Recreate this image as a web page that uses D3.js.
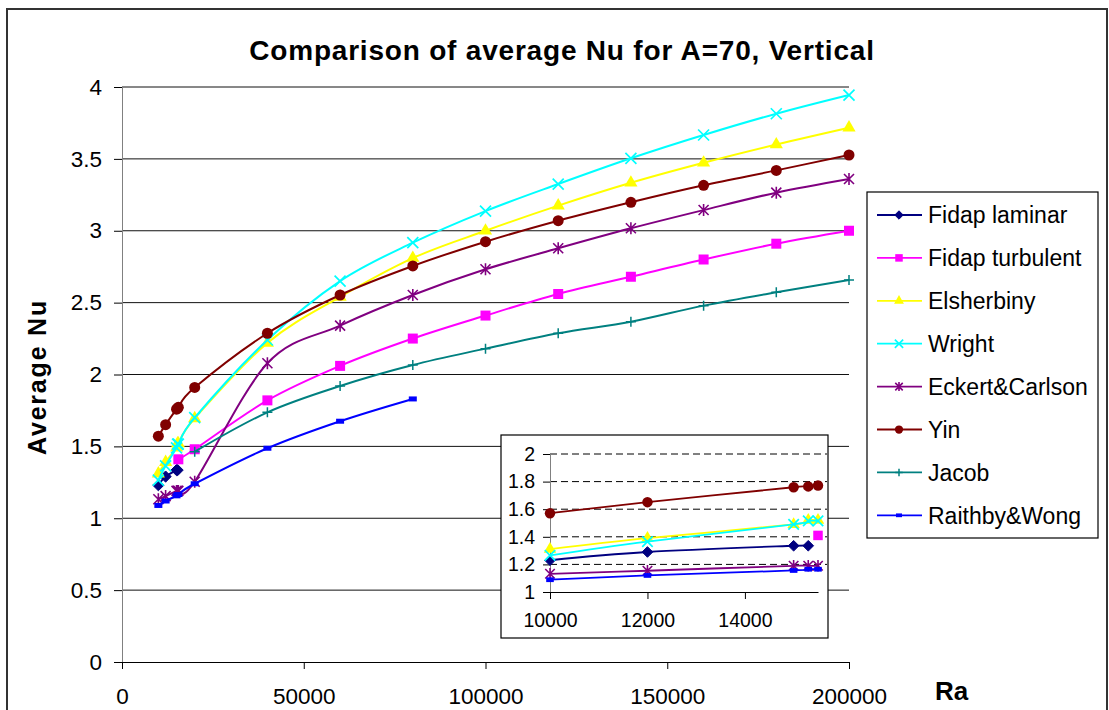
<!DOCTYPE html>
<html>
<head>
<meta charset="utf-8">
<script src="https://d3js.org/d3.v7.min.js"></script>
<style>
body { margin: 0; background: #fff; }
text { font-family: "Liberation Sans", Arial, sans-serif; }
</style>
</head>
<body>
<svg width="1109" height="710"></svg>
<script>
// Ra values shared by several series
var raLow = [10000, 12000, 15000, 15300, 15500];
var raHigh = [20000, 40000, 60000, 80000, 100000, 120000, 140000, 160000, 180000, 200000];

// data
var raFidapLam = [10000, 12000, 15000, 15300];
var nuFidapLam = [1.23, 1.29, 1.335, 1.335];

var raFidapTurb = [15500].concat(raHigh);
var nuFidapTurb = [1.41, 1.48, 1.82, 2.06, 2.25, 2.41, 2.56, 2.68, 2.80, 2.91, 3.00];

var raElsherbiny = raLow.concat(raHigh);
var nuElsherbiny = [1.31, 1.39, 1.49, 1.52, 1.52, 1.695, 2.22, 2.54, 2.81, 3.00, 3.175, 3.334, 3.473, 3.60, 3.717];

var raWright = raLow.concat(raHigh);
var nuWright = [1.265, 1.365, 1.49, 1.515, 1.515, 1.70, 2.24, 2.65, 2.917, 3.137, 3.325, 3.504, 3.666, 3.814, 3.944];

var raEckert = raLow.concat(raHigh);
var nuEckert = [1.132, 1.154, 1.19, 1.19, 1.19, 1.254, 2.078, 2.34, 2.553, 2.732, 2.878, 3.017, 3.144, 3.265, 3.36];

var raYin = raLow.concat(raHigh);
var nuYin = [1.571, 1.651, 1.759, 1.765, 1.772, 1.91, 2.287, 2.553, 2.755, 2.924, 3.07, 3.198, 3.316, 3.42, 3.527];

var raJacob = raHigh;
var nuJacob = [1.463, 1.737, 1.92, 2.066, 2.18, 2.287, 2.367, 2.479, 2.572, 2.657];

var raRaithby = [10000, 12000, 15000, 15300, 15500, 20000, 40000, 60000, 80000];
var nuRaithby = [1.089, 1.12, 1.156, 1.165, 1.165, 1.24, 1.487, 1.675, 1.83];

var names = ["Fidap laminar", "Fidap turbulent", "Elsherbiny", "Wright", "Eckert&Carlson", "Yin", "Jacob", "Raithby&Wong"];
var colors = ["#000080", "#FF00FF", "#FFFF00", "#00FFFF", "#800080", "#800000", "#008080", "#0000FF"];

var yTicks = [0, 0.5, 1, 1.5, 2, 2.5, 3, 3.5, 4];
var xTicks = [0, 50000, 100000, 150000, 200000];
var insetYTicks = [1, 1.2, 1.4, 1.6, 1.8, 2];
var insetXTicks = [10000, 12000, 14000];

var raSets = [raFidapLam, raFidapTurb, raElsherbiny, raWright, raEckert, raYin, raJacob, raRaithby];
var nuSets = [nuFidapLam, nuFidapTurb, nuElsherbiny, nuWright, nuEckert, nuYin, nuJacob, nuRaithby];
var series = names.map(function (n, i) {
  return { name: n, color: colors[i], points: raSets[i].map(function (r, j) { return [r, nuSets[i][j]]; }) };
});

var svg = d3.select("svg");

// outer chart border
svg.append("rect").attr("x", 7).attr("y", 9).attr("width", 1100).attr("height", 720)
  .attr("fill", "#fff").attr("stroke", "#333").attr("stroke-width", 2);

var xScale = d3.scaleLinear().domain([0, 200000]).range([122, 849]);
var yScale = d3.scaleLinear().domain([0, 4]).range([662, 87]);

// markers: draw one marker of a series at (0,0)
function marker(g, i, s) {
  var c = colors[i];
  if (i == 0) {
    g.append("path").attr("d", d3.symbol(d3.symbolDiamond2, 80 * s * s)()).attr("fill", c).attr("stroke", c);
  } else if (i == 1) {
    g.append("rect").attr("x", -5 * s).attr("y", -5 * s).attr("width", 10 * s).attr("height", 10 * s).attr("fill", c);
  } else if (i == 2) {
    g.append("path").attr("d", d3.symbol(d3.symbolTriangle, 75 * s * s)()).attr("fill", c);
  } else if (i == 3) {
    g.append("path").attr("d", "M-5.5,-5.5L5.5,5.5M-5.5,5.5L5.5,-5.5").attr("transform", "scale(" + s + ")")
      .attr("stroke", c).attr("stroke-width", 1.7 / s).attr("fill", "none");
  } else if (i == 4) {
    g.append("path").attr("d", "M-5,-5L5,5M-5,5L5,-5M0,-6L0,6").attr("transform", "scale(" + s + ")")
      .attr("stroke", c).attr("stroke-width", 1.6 / s).attr("fill", "none");
  } else if (i == 5) {
    g.append("circle").attr("r", 5.5 * s).attr("fill", c);
  } else if (i == 6) {
    g.append("path").attr("d", "M-5,0L5,0M0,-5L0,5").attr("transform", "scale(" + s + ")")
      .attr("stroke", c).attr("stroke-width", 1.5 / s).attr("fill", "none");
  } else {
    g.append("rect").attr("x", -4 * s).attr("y", -2.5 * s).attr("width", 8 * s).attr("height", 5 * s).attr("fill", c);
  }
}

// gridlines
svg.append("g").selectAll("line").data(yTicks.slice(1)).enter().append("line")
  .attr("x1", 122).attr("x2", 849)
  .attr("y1", function (d) { return yScale(d); }).attr("y2", function (d) { return yScale(d); })
  .attr("stroke", "#111").attr("stroke-width", 1);

// axes
var yAxis = svg.append("g").attr("transform", "translate(122,0)")
  .call(d3.axisLeft(yScale).tickValues(yTicks).tickFormat(d3.format("")).tickSize(8).tickSizeOuter(0).tickPadding(12));
yAxis.select(".domain").attr("stroke", "#808080");
yAxis.selectAll("text").style("font-size", "22.5px").attr("fill", "#000");

var xAxis = svg.append("g").attr("transform", "translate(0,662)")
  .call(d3.axisBottom(xScale).tickValues(xTicks).tickFormat(d3.format("d")).tickSize(7).tickSizeOuter(0).tickPadding(19));
xAxis.selectAll("text").style("font-size", "22.5px").attr("fill", "#000");

// title and axis labels
svg.append("text").attr("x", 562).attr("y", 60).attr("text-anchor", "middle")
  .style("font-size", "28px").style("font-weight", "bold").style("letter-spacing", "0.8px")
  .text("Comparison of average Nu for A=70, Vertical");

svg.append("text").attr("transform", "translate(46,377)rotate(-90)").attr("text-anchor", "middle")
  .style("font-size", "25px").style("font-weight", "bold").style("letter-spacing", "1.8px")
  .text("Average Nu");

svg.append("text").attr("x", 935).attr("y", 700)
  .style("font-size", "26px").style("font-weight", "bold").text("Ra");

// series
var line = d3.line()
  .x(function (d) { return xScale(d[0]); })
  .y(function (d) { return yScale(d[1]); })
  .curve(d3.curveCatmullRom.alpha(0));

series.forEach(function (s, i) {
  svg.append("path").datum(s.points).attr("d", line)
    .attr("fill", "none").attr("stroke", s.color).attr("stroke-width", 2);
  svg.append("g").selectAll("g").data(s.points).enter().append("g")
    .attr("transform", function (d) { return "translate(" + xScale(d[0]) + "," + yScale(d[1]) + ")"; })
    .each(function () { marker(d3.select(this), i, 1); });
});

// inset
svg.append("rect").attr("x", 501).attr("y", 435).attr("width", 327).attr("height", 203)
  .attr("fill", "#fff").attr("stroke", "#000").attr("stroke-width", 1.2);

var xIn = d3.scaleLinear().domain([10000, 15500]).range([550, 818]);
var yIn = d3.scaleLinear().domain([1, 2]).range([592, 454]);

svg.append("g").selectAll("line").data(insetYTicks.slice(1)).enter().append("line")
  .attr("x1", 550).attr("x2", 827)
  .attr("y1", function (d) { return yIn(d); }).attr("y2", function (d) { return yIn(d); })
  .attr("stroke", "#000").attr("stroke-width", 1).attr("stroke-dasharray", "7,4");

var yAxisIn = svg.append("g").attr("transform", "translate(550,0)")
  .call(d3.axisLeft(yIn).tickValues(insetYTicks).tickFormat(d3.format("")).tickSize(7).tickSizeOuter(0).tickPadding(8));
yAxisIn.select(".domain").attr("stroke", "#808080");
yAxisIn.selectAll("text").style("font-size", "19.5px").attr("fill", "#000");

var xAxisIn = svg.append("g").attr("transform", "translate(0,592)")
  .call(d3.axisBottom(xIn).tickValues(insetXTicks).tickFormat(d3.format("d")).tickSize(7).tickSizeOuter(0).tickPadding(14));
xAxisIn.selectAll("text").style("font-size", "19.5px").attr("fill", "#000");

var lineIn = d3.line()
  .x(function (d) { return xIn(d[0]); })
  .y(function (d) { return yIn(d[1]); })
  .curve(d3.curveCatmullRom.alpha(0));

series.forEach(function (s, i) {
  var pts = s.points.filter(function (d) { return d[0] <= 15500; });
  if (!pts.length) return;
  svg.append("path").datum(pts).attr("d", lineIn)
    .attr("fill", "none").attr("stroke", s.color).attr("stroke-width", 1.8);
  svg.append("g").selectAll("g").data(pts).enter().append("g")
    .attr("transform", function (d) { return "translate(" + xIn(d[0]) + "," + yIn(d[1]) + ")"; })
    .each(function () { marker(d3.select(this), i, 0.95); });
});

// legend
svg.append("rect").attr("x", 867).attr("y", 192).attr("width", 231).attr("height", 346)
  .attr("fill", "#fff").attr("stroke", "#000").attr("stroke-width", 1.2);

var lg = svg.selectAll(".lineLegend").data(series).enter().append("g")
  .attr("class", "lineLegend")
  .attr("transform", function (d, i) { return "translate(0," + (215 + i * 42.9) + ")"; });

lg.append("line").attr("x1", 877).attr("x2", 922)
  .attr("stroke", function (d) { return d.color; }).attr("stroke-width", 1.8);
lg.append("g").attr("transform", "translate(899,0)")
  .each(function (d, i) { marker(d3.select(this), i, 0.75); });
lg.append("text").attr("x", 928).attr("dy", "0.36em")
  .style("font-size", "23px").text(function (d) { return d.name; });
</script>
</body>
</html>
